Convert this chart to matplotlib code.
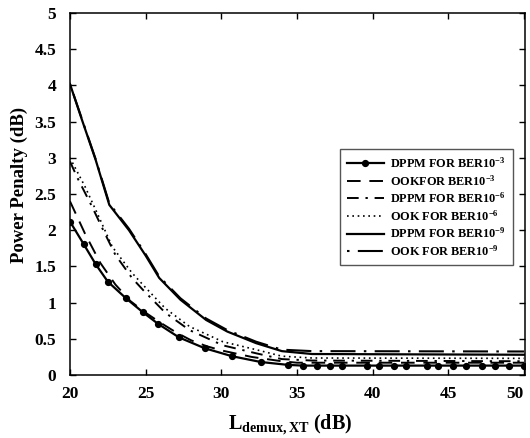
import matplotlib
matplotlib.use("Agg")
import matplotlib.pyplot as plt

plt.rcParams["font.family"] = ["Liberation Serif", "DejaVu Serif"]
plt.rcParams["font.weight"] = "bold"
plt.rcParams["mathtext.fontset"] = "custom"
plt.rcParams["mathtext.rm"] = "Liberation Serif:bold"
plt.rcParams["mathtext.it"] = "Liberation Serif:bold"
plt.rcParams["mathtext.bf"] = "Liberation Serif:bold"

# Power penalty vs. demux crosstalk isolation
x_dppm3 = [20.0, 20.9, 21.7, 22.5, 23.7, 24.8, 25.8, 27.2, 28.9, 30.7, 32.6, 34.4,
           35.4, 36.3, 37.2, 38.0, 39.6, 40.4, 41.4, 42.2, 43.6, 44.3, 45.3, 46.2,
           47.2, 48.1, 49.0, 50.0]
y_dppm3 = [2.12, 1.81, 1.53, 1.29, 1.06, 0.87, 0.71, 0.52, 0.37, 0.26, 0.18, 0.14,
           0.13, 0.13, 0.13, 0.13, 0.13, 0.13, 0.13, 0.13, 0.13, 0.13, 0.13, 0.13,
           0.13, 0.13, 0.13, 0.13]

x_ook3 = [20, 21, 22, 23, 24, 25, 26, 27, 28, 29, 30, 32, 34, 35, 50]
y_ook3 = [2.40, 1.95, 1.55, 1.25, 1.02, 0.86, 0.72, 0.59, 0.48, 0.40, 0.34, 0.25, 0.19, 0.17, 0.17]

x_dppm6 = [20, 20.5, 21.45, 22.2, 23.0, 24.1, 24.85, 26.3, 27.9, 30.1, 32.3, 34, 36, 50]
y_dppm6 = [2.95, 2.72, 2.33, 2.0, 1.66, 1.34, 1.17, 0.86, 0.62, 0.41, 0.30, 0.22, 0.20, 0.19]

x_ook6 = [20, 21, 21.9, 22.8, 24.1, 24.85, 26.3, 27.9, 30.1, 32.3, 34, 36, 50]
y_ook6 = [3.00, 2.60, 2.19, 1.77, 1.41, 1.24, 0.92, 0.67, 0.46, 0.35, 0.26, 0.235, 0.23]

x_dppm9 = [20, 20.8, 21.7, 22.6, 23.9, 25.0, 25.9, 27.3, 29.0, 30.4, 32.3, 34.0, 36, 50]
y_dppm9 = [4.02, 3.52, 2.97, 2.35, 2.00, 1.65, 1.34, 1.04, 0.76, 0.60, 0.44, 0.33, 0.29, 0.28]

x_ook9 = [20, 20.8, 21.7, 22.6, 23.9, 25.0, 25.9, 27.3, 29.0, 30.4, 32.3, 34.0, 36, 50]
y_ook9 = [4.02, 3.53, 2.98, 2.37, 2.02, 1.67, 1.36, 1.06, 0.78, 0.62, 0.46, 0.35, 0.33, 0.325]

labels = [r"DPPM FOR BER10$^{-3}$", r"OOKFOR BER10$^{-3}$", r"DPPM FOR BER10$^{-6}$",
          r"OOK FOR BER10$^{-6}$", r"DPPM FOR BER10$^{-9}$", r"OOK FOR BER10$^{-9}$"]

x_ticks = [20, 25, 30, 35, 40, 45, 50]
y_ticks = [0, 0.5, 1, 1.5, 2, 2.5, 3, 3.5, 4, 4.5, 5]
y_ticklabels = ["0", "0.5", "1", "1.5", "2", "2.5", "3", "3.5", "4", "4.5", "5"]

fig = plt.figure(figsize=(5.30, 4.38), dpi=100)
ax = fig.add_axes([0.132, 0.1438, 0.8595, 0.8265])

ax.plot(x_dppm3, y_dppm3, color="black", lw=1.6, marker="o", ms=4.2, label=labels[0])
ax.plot(x_ook3, y_ook3, color="black", lw=1.4, linestyle=(0, (7, 4.5)), label=labels[1])
ax.plot(x_dppm6, y_dppm6, color="black", lw=1.4, linestyle=(0, (6, 3.5, 1.2, 3.5)), label=labels[2])
ax.plot(x_ook6, y_ook6, color="black", lw=1.2, linestyle=(0, (1, 2.2)), label=labels[3])
ax.plot(x_dppm9, y_dppm9, color="black", lw=1.6, label=labels[4])
ax.plot(x_ook9, y_ook9, color="black", lw=1.5, linestyle=(0, (1.2, 4, 12, 4)), label=labels[5])

ax.set_xlim(20, 50.1)
ax.set_ylim(0, 5)
ax.set_xticks(x_ticks)
ax.set_yticks(y_ticks)
ax.set_yticklabels(y_ticklabels)
ax.tick_params(direction="in", top=True, right=True, length=4, width=1, labelsize=12.5)
ax.tick_params(axis="x", pad=8)
ax.tick_params(axis="y", pad=10)
for lab in ax.get_xticklabels() + ax.get_yticklabels():
    lab.set_fontweight("bold")
# keep the last x label inside the figure
ax.get_xticklabels()[-1].set_horizontalalignment("right")
for sp in ax.spines.values():
    sp.set_linewidth(1.1)

ax.set_xlabel(r"L$_{\mathregular{demux,XT}}$ (dB)", fontsize=14.5, fontweight="bold")
ax.set_ylabel("Power Penalty (dB)", fontsize=13.5, fontweight="bold")
ax.xaxis.set_label_coords(0.483, -0.105)
ax.yaxis.set_label_coords(-0.092, 0.525)

leg = ax.legend(loc="upper right", bbox_to_anchor=(0.972, 0.624), fontsize=8.8,
                handlelength=3.0, handletextpad=0.55, labelspacing=0.25,
                borderpad=0.55, borderaxespad=0, fancybox=False, framealpha=1,
                edgecolor="#555555")
leg.get_frame().set_linewidth(1.0)

fig.savefig("out.png", dpi=100)
